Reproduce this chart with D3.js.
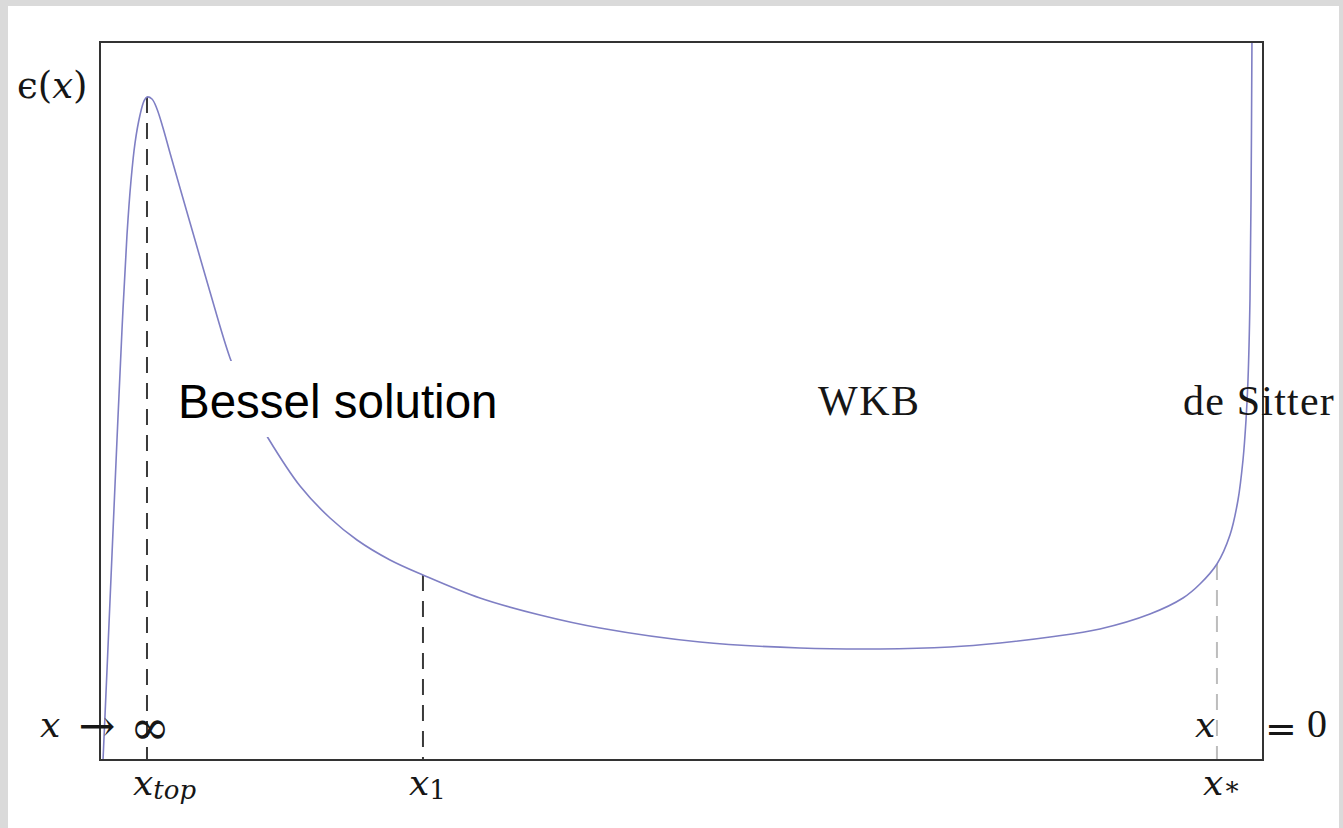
<!DOCTYPE html>
<html>
<head>
<meta charset="utf-8">
<script src="https://cdn.jsdelivr.net/npm/d3@7"></script>
<style>
  body { margin: 0; background: #cfcfcf; overflow: hidden; }
  svg { display: block; }
</style>
</head>
<body>
<div id="chart-area"></div>
<script>
// epsilon(x) curve (x and y both in 0..100 units of the box)
const curveX = [0.26, 0.64, 1.03, 1.46, 1.89, 2.32, 2.67, 3.01, 3.44, 3.78, 4.04, 4.47, 4.90, 5.42,
  6.02, 6.88, 8.17, 9.46, 11.18, 12.47, 13.59, 14.45, 17.20, 19.78, 22.10, 24.94, 27.77, 32.67, 37.83,
  42.99, 51.59, 60.19, 67.07, 73.09, 77.39, 81.69, 85.98, 90.28, 93.12, 94.58, 96.04, 97.16, 97.85,
  98.28, 98.54, 98.71, 98.88, 98.97, 99.05];
const curveY = [0, 13.93, 28.55, 44.57, 59.89, 73.12, 80.78, 85.93, 89.83, 91.78, 92.34, 92.06, 90.67, 88.02,
  84.54, 79.67, 72.42, 65.18, 55.99, 50.97, 47.35, 44.85, 38.16, 33.70, 30.64, 27.86, 25.77, 22.56, 20.19,
  18.38, 16.43, 15.60, 15.46, 15.74, 16.30, 17.13, 18.25, 20.33, 22.56, 24.51, 27.30, 31.34, 36.21,
  41.78, 47.35, 52.92, 64.07, 77.99, 100];

// dashed markers
const markerSub = ["top", "1", "\u2217"];
const markerX = [4.04, 27.77, 96.04];
const markerTop = [92.34, 25.77, 27.30];

// region names
const regionNames = ["Bessel solution", "WKB", "de Sitter"];

const margin = {top: 42, left: 100};
const width = 1163;
const height = 718;
const ink = "#161616";
const romanFont = "'Liberation Serif', 'DejaVu Serif', serif";
const mathFont = "'DejaVu Serif', serif";

const svg = d3.select("#chart-area")
  .append("svg")
  .attr("width", 1343)
  .attr("height", 828);

// marbled backdrop
const defs = svg.append("defs");
const marble = defs.append("filter").attr("id", "marble").attr("x", 0).attr("y", 0).attr("width", 1).attr("height", 1);
marble.append("feTurbulence").attr("type", "fractalNoise").attr("baseFrequency", "0.012 0.03")
  .attr("numOctaves", 4).attr("seed", 7);
marble.append("feColorMatrix").attr("type", "matrix")
  .attr("values", "0 0 0 0 0.80  0 0 0 0 0.80  0 0 0 0 0.80  0 0 0 0 1");
svg.append("rect").attr("width", 1343).attr("height", 828).attr("fill", "#c8c8c8");
svg.append("rect").attr("width", 1343).attr("height", 828).attr("filter", "url(#marble)").attr("opacity", 0.6);

defs.append("clipPath").attr("id", "page")
  .append("rect").attr("x", 8).attr("y", 6).attr("width", 1331).attr("height", 830);

// white page
svg.append("rect").attr("x", 8).attr("y", 6).attr("width", 1331).attr("height", 830).attr("fill", "white");

const page = svg.append("g").attr("clip-path", "url(#page)");
const group = page.append("g")
  .attr("transform", `translate(${margin.left}, ${margin.top})`);

// scales
const x = d3.scaleLinear().domain([0, 100]).range([0, width]);
const y = d3.scaleLinear().domain([0, 100]).range([height, 0]);

// dashed verticals
group.selectAll("line.marker")
  .data(markerX)
  .enter().append("line")
  .attr("class", "marker")
  .attr("x1", d => x(d)).attr("x2", d => x(d))
  .attr("y1", (d, i) => y(markerTop[i])).attr("y2", y(0))
  .attr("stroke", (d, i) => i === 2 ? "#bdbdbd" : "#3a3a3a")
  .attr("stroke-width", 2)
  .attr("stroke-dasharray", "16,10");

// curve
const line = d3.line()
  .x(d => x(d[0]))
  .y(d => y(d[1]))
  .curve(d3.curveCatmullRom.alpha(0.5));

group.append("path")
  .datum(curveX.map((d, i) => [d, curveY[i]]))
  .attr("d", line)
  .attr("fill", "none")
  .attr("stroke", "#7f7fc4")
  .attr("stroke-width", 1.6);

// frame
group.append("rect")
  .attr("width", width).attr("height", height)
  .attr("fill", "none")
  .attr("stroke", "#333")
  .attr("stroke-width", 2);

// Bessel label sits on a white box which hides the curve
group.append("rect")
  .attr("x", 75).attr("y", 319).attr("width", 330).attr("height", 76)
  .attr("fill", "white");
group.append("text")
  .attr("x", 78).attr("y", 376)
  .attr("font-family", "'Liberation Sans', Arial, sans-serif")
  .attr("font-size", "47.5px")
  .attr("fill", "#000")
  .text(regionNames[0]);

group.append("text")
  .attr("x", 718).attr("y", 373)
  .attr("font-family", romanFont)
  .attr("font-size", "42px")
  .attr("letter-spacing", "1.5px")
  .attr("fill", ink)
  .text(regionNames[1]);

group.append("text")
  .attr("x", 1083).attr("y", 373)
  .attr("font-family", romanFont)
  .attr("font-size", "42px")
  .attr("letter-spacing", "1.2px")
  .attr("fill", ink)
  .text(regionNames[2]);

// y label  eps(x)
const yLab = page.append("text")
  .attr("x", 17).attr("y", 98)
  .attr("font-family", mathFont)
  .attr("font-size", "37px")
  .attr("fill", ink);
yLab.append("tspan").text("\u03F5");
yLab.append("tspan").text("(");
yLab.append("tspan").attr("font-style", "italic").text("x");
yLab.append("tspan").text(")");

// x -> infinity  and  x = 0
const yBase = 737;
page.append("text").attr("x", 40).attr("y", yBase)
  .attr("font-family", mathFont).attr("font-size", "36px").attr("font-style", "italic")
  .attr("fill", ink).text("x");
page.append("text").attr("x", 97).attr("y", yBase + 4)
  .attr("text-anchor", "middle")
  .attr("font-family", mathFont).attr("font-size", "44px")
  .attr("fill", ink).text("\u2192");
page.append("text").attr("x", 150).attr("y", yBase + 7)
  .attr("text-anchor", "middle")
  .attr("font-family", mathFont).attr("font-size", "48px")
  .attr("fill", ink).text("\u221E");

page.append("text").attr("x", 1195).attr("y", yBase)
  .attr("font-family", mathFont).attr("font-size", "36px").attr("font-style", "italic")
  .attr("fill", ink).text("x");
page.append("text").attr("x", 1281).attr("y", yBase + 5)
  .attr("text-anchor", "middle")
  .attr("font-family", mathFont).attr("font-size", "38px")
  .attr("fill", ink).text("=");
page.append("text").attr("x", 1307).attr("y", yBase)
  .attr("font-family", romanFont).attr("font-size", "40px")
  .attr("fill", ink).text("0");

// tick labels under the box
const ticks = group.selectAll("text.tick")
  .data(markerX)
  .enter().append("text")
  .attr("class", "tick")
  .attr("x", d => x(d) - 14)
  .attr("y", height + 35)
  .attr("font-family", mathFont)
  .attr("font-size", "36px")
  .attr("font-style", "italic")
  .attr("fill", ink);
ticks.append("tspan").text("x");
ticks.append("tspan")
  .attr("dy", (d, i) => i === 2 ? 0 : 4)
  .attr("font-size", "26px")
  .attr("font-style", (d, i) => i === 0 ? "italic" : "normal")
  .text((d, i) => markerSub[i]);
</script>
</body>
</html>
